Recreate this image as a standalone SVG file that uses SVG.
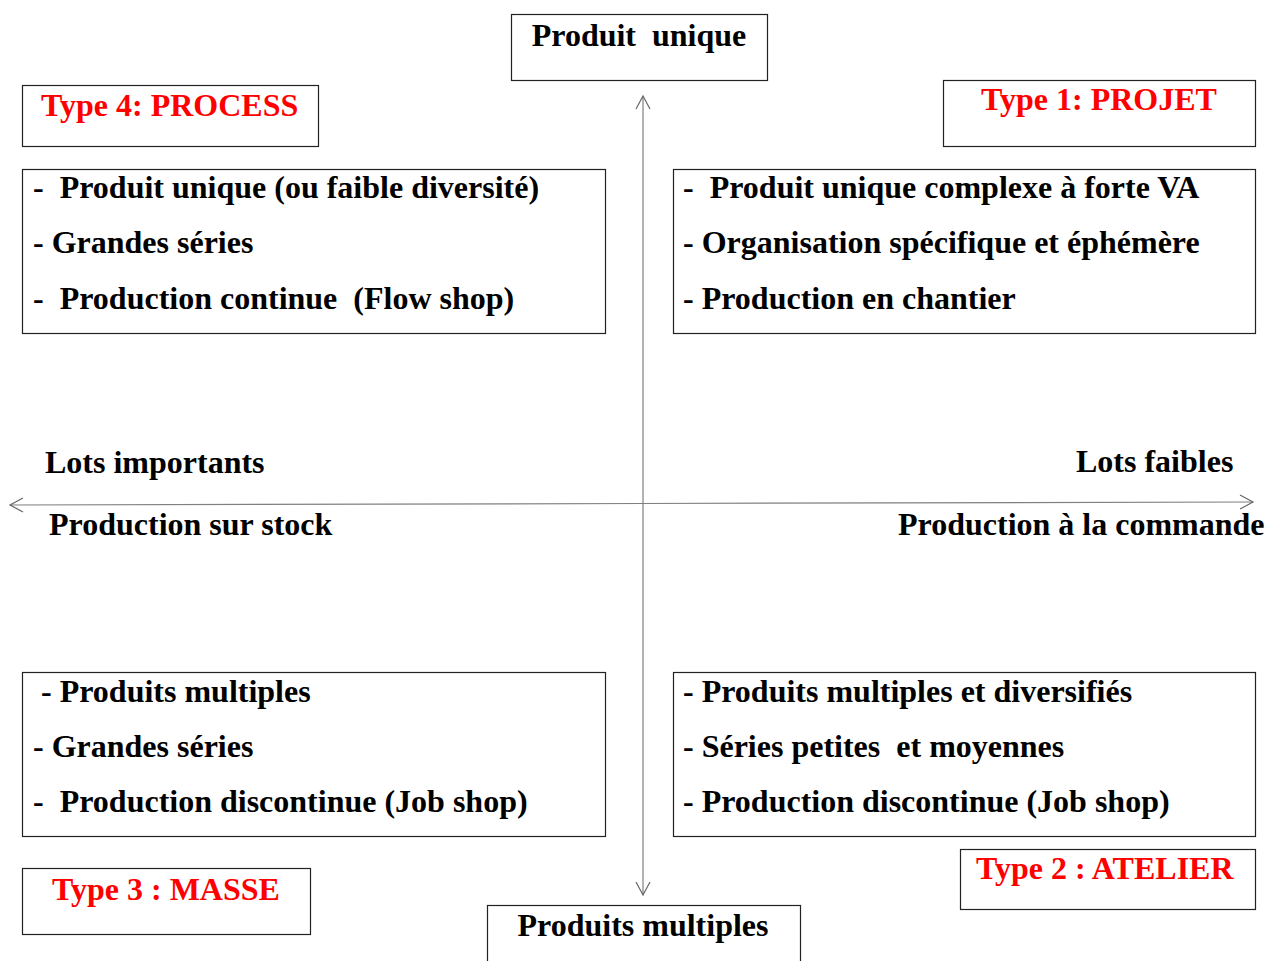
<svg xmlns="http://www.w3.org/2000/svg" width="1274" height="961" viewBox="0 0 1274 961">
<style>
  text { font-family: "Liberation Serif", "Times New Roman", serif; font-weight: bold; font-size: 32px; fill: #000; white-space: pre; }
  .red { fill: #ff0000; }
  .box { fill: #fff; stroke: #222; stroke-width: 1.2; }
  .axis { fill: none; stroke: #808080; stroke-width: 1.2; }
</style>
<defs>
  <marker id="open" viewBox="-15 -9 17 18" refX="0" refY="0" markerWidth="17" markerHeight="18" markerUnits="userSpaceOnUse" orient="auto">
    <path d="M -13 -7 L 0 0 L -13 7" fill="none" stroke="#666" stroke-width="1.2"/>
  </marker>
</defs>
<rect width="1274" height="961" fill="#fff"/>
<g id="connectors">
  <line class="axis" x1="643" y1="500" x2="643" y2="96" marker-end="url(#open)"/>
  <line class="axis" x1="643" y1="500" x2="643" y2="895" marker-end="url(#open)"/>
  <line class="axis" x1="643" y1="503.5" x2="10" y2="505" marker-end="url(#open)" stroke="#666"/>
  <line class="axis" x1="643" y1="503.5" x2="1253" y2="502" marker-end="url(#open)" stroke="#666"/>
</g>
<g id="produit-unique">
  <rect class="box" x="511.5" y="14.5" width="256" height="66"/>
  <text x="639" y="46" text-anchor="middle">Produit  unique</text>
</g>
<g id="produits-multiples">
  <rect class="box" x="487.5" y="905.5" width="313" height="70"/>
  <text x="643" y="936" text-anchor="middle">Produits multiples</text>
</g>
<g id="type4">
  <rect class="box" x="22.5" y="85.5" width="296" height="61"/>
  <text class="red" x="41" y="116">Type 4: PROCESS</text>
</g>
<g id="type1">
  <rect class="box" x="943.5" y="80.5" width="312" height="66"/>
  <text class="red" x="981" y="110">Type 1: PROJET</text>
</g>
<g id="type3">
  <rect class="box" x="22.5" y="868.5" width="288" height="66"/>
  <text class="red" x="52" y="900">Type 3 : MASSE</text>
</g>
<g id="type2">
  <rect class="box" x="960.5" y="849.5" width="295" height="60"/>
  <text class="red" x="976" y="879">Type 2 : ATELIER</text>
</g>
<g id="process-desc">
  <rect class="box" x="22.5" y="169.5" width="583" height="164"/>
  <text x="33" y="198">-  Produit unique (ou faible diversité)</text>
  <text x="33" y="253">- Grandes séries</text>
  <text x="33" y="309">-  Production continue  (Flow shop)</text>
</g>
<g id="projet-desc">
  <rect class="box" x="673.5" y="169.5" width="582" height="164"/>
  <text x="683" y="198">-  Produit unique complexe à forte VA</text>
  <text x="683" y="253">- Organisation spécifique et éphémère</text>
  <text x="683" y="309">- Production en chantier</text>
</g>
<g id="masse-desc">
  <rect class="box" x="22.5" y="672.5" width="583" height="164"/>
  <text x="41" y="702">- Produits multiples</text>
  <text x="33" y="757">- Grandes séries</text>
  <text x="33" y="812">-  Production discontinue (Job shop)</text>
</g>
<g id="atelier-desc">
  <rect class="box" x="673.5" y="672.5" width="582" height="164"/>
  <text x="683" y="702">- Produits multiples et diversifiés</text>
  <text x="683" y="757">- Séries petites  et moyennes</text>
  <text x="683" y="812">- Production discontinue (Job shop)</text>
</g>
<g id="axis-labels">
  <text x="45" y="473">Lots importants</text>
  <text x="1076" y="472">Lots faibles</text>
  <text x="49" y="535">Production sur stock</text>
  <text x="898" y="535">Production à la commande</text>
</g>
</svg>
